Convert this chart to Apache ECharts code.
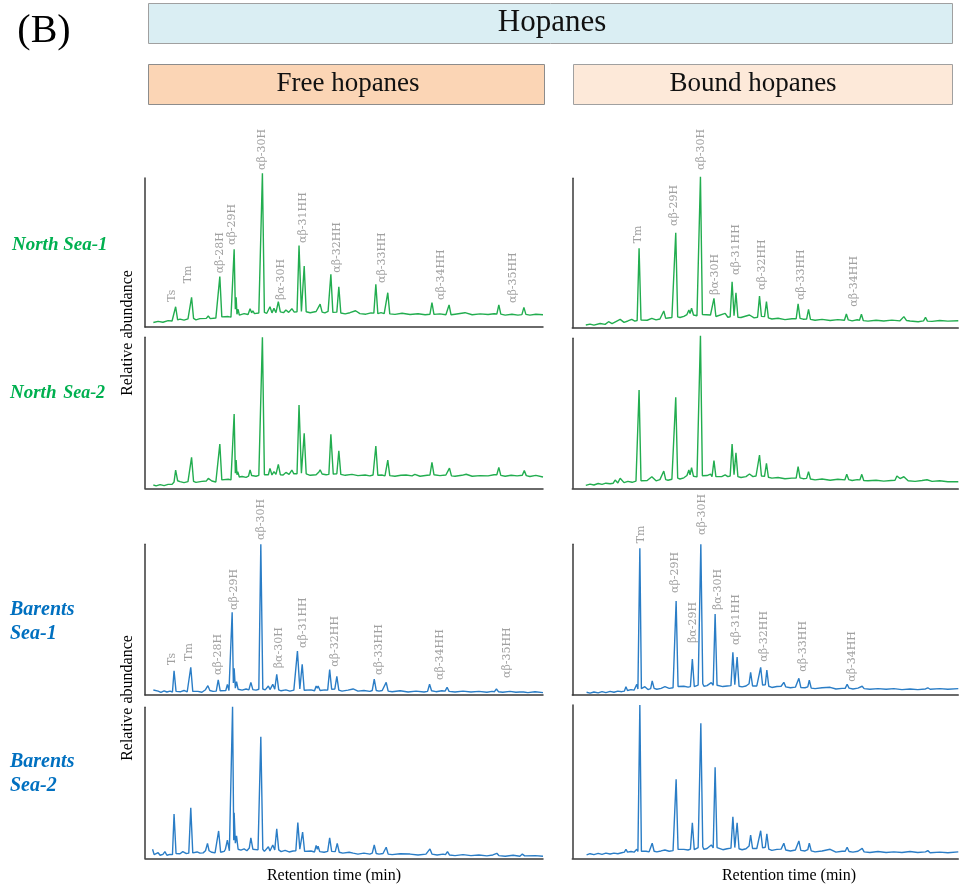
<!DOCTYPE html>
<html>
<head>
<meta charset="utf-8">
<script src="https://cdn.jsdelivr.net/npm/echarts@6/dist/echarts.min.js"></script>
<style>
html,body{margin:0;padding:0;background:#fff;}
#chart{width:959px;height:886px;}
</style>
</head>
<body>
<div id="chart"></div>
<script>
// Retention position (0-100 across each panel) and relative abundance (0-100 = panel height)
const northSea1Free = [[2.1,3.0],[3.3,3.8],[4.5,3.2],[5.8,4.3],[6.8,4.0],[7.2,4.2],[7.7,13.6],[8.2,4.8],[8.8,5.3],[9.8,4.6],[10.8,5.5],[11.2,5.2],[11.7,19.9],[12.2,5.8],[12.8,4.8],[13.8,5.6],[15.4,5.8],[15.9,7.4],[16.4,5.6],[17.8,6.0],[18.3,6.2],[18.8,33.8],[19.3,6.8],[19.8,6.4],[20.9,7.0],[21.6,6.6],[21.9,7.0],[22.4,52.1],[22.7,12],[22.9,19.9],[23.1,8.5],[23.4,11.9],[23.7,8.0],[24.9,9.0],[25.9,8.4],[26.4,12.3],[26.8,9.5],[27.1,10.9],[27.5,9.0],[28.6,9.4],[29.0,9.6],[29.5,103.2],[30.0,9.8],[30.6,9.2],[31.4,13.6],[31.9,9.5],[32.4,12.5],[32.9,9.6],[33.5,17.0],[34.0,10.2],[34.8,9.6],[35.4,11.4],[36.1,9.8],[36.9,12.3],[37.5,10.0],[38.2,10.2],[38.7,54.6],[39.3,10.5],[39.6,11],[40.0,40.9],[40.5,10.2],[41.5,9.6],[43.0,10.4],[43.5,10.3],[44.0,15.4],[44.5,10.0],[45.2,9.5],[46.0,10.5],[46.2,10.0],[46.7,35.4],[47.2,9.8],[47.7,10.2],[48.2,10.0],[48.7,27.0],[49.2,9.4],[50.3,8.8],[51.5,9.6],[52.9,10.9],[54.0,9.0],[55.5,8.6],[56.8,9.5],[57.5,9.3],[58.0,28.7],[58.5,9.0],[59.3,9.6],[60.1,9.0],[60.5,9.2],[61.0,23.0],[61.5,8.8],[62.8,8.5],[64.6,9.2],[66.6,8.4],[68.6,8.9],[70.4,8.2],[71.6,8.6],[72.1,16.3],[72.6,8.5],[74.1,8.8],[75.6,8.2],[75.9,8.4],[76.4,14.8],[76.9,8.2],[77.9,8.6],[80.4,9.6],[82.2,8.2],[84.2,8.8],[86.2,8.4],[87.7,8.9],[88.4,8.7],[88.9,14.8],[89.4,8.6],[90.5,8.0],[92.2,8.6],[93.7,8.0],[94.7,8.3],[95.2,13.2],[95.7,8.5],[96.7,8.0],[98.2,8.6],[100,8.2]];
const northSea1Bound = [[3.5,1.8],[4.6,2.4],[5.6,1.7],[7.2,2.8],[8.5,2.2],[9.4,4.0],[10.3,2.8],[12.4,5.6],[13.4,3.6],[14.4,4.5],[15.4,5.6],[16.2,4.4],[16.8,4.8],[17.3,53.1],[17.8,5.2],[18.3,5.5],[19.4,5.0],[20.6,6.3],[21.7,5.2],[22.7,5.8],[23.2,6.0],[23.7,11.2],[24.2,6.2],[24.8,6.5],[25.8,6.8],[26.3,7.0],[26.8,63.6],[27.3,7.2],[27.9,6.8],[28.9,7.6],[29.7,8.8],[30.2,11.8],[30.5,9.5],[30.9,13.0],[31.4,8.5],[32.3,8.0],[32.7,8.4],[33.2,101.1],[33.7,8.8],[34.1,7.6],[35.8,8.5],[36.2,7.2],[36.7,19.7],[37.2,7.5],[37.7,6.8],[39.6,9.6],[40.3,7.0],[40.9,7.3],[41.4,30.8],[41.9,8.0],[42.4,23.4],[42.9,7.0],[43.7,6.8],[45.9,8.5],[47.1,6.6],[48.0,7.0],[48.5,21.2],[49.0,7.6],[49.8,7.4],[50.3,17.4],[50.8,6.6],[51.7,5.8],[53.3,6.3],[55.1,5.4],[56.9,6.0],[58.0,6.0],[58.5,15.9],[59.0,6.2],[59.8,5.7],[60.7,5.8],[61.2,12.3],[61.7,5.6],[62.9,5.0],[64.7,5.6],[66.8,4.8],[68.8,5.4],[70.5,5.0],[71.0,9.2],[71.5,5.2],[72.5,4.6],[73.8,5.3],[74.4,5.0],[74.9,9.0],[75.4,4.7],[76.6,4.4],[78.7,5.0],[80.7,4.5],[82.8,5.1],[84.9,4.6],[85.9,7.4],[86.6,4.8],[87.5,4.5],[89.6,4.0],[91.0,4.6],[91.5,7.0],[92.0,4.4],[93.2,4.2],[95.2,4.8],[97.3,4.4],[100,4.7]];
const northSea2Free = [[2.1,2.2],[2.8,1.6],[3.8,2.4],[4.8,1.8],[5.8,2.6],[6.8,2.6],[7.3,4.2],[7.7,12.1],[8.2,5.0],[8.8,4.4],[9.8,3.8],[10.8,4.4],[11.2,4.0],[11.7,20.5],[12.2,4.6],[12.8,3.9],[14.3,4.6],[15.4,4.8],[15.9,6.6],[16.8,4.8],[17.8,4.2],[18.3,4.6],[18.8,29.3],[19.3,5.6],[19.8,5.2],[20.9,6.0],[21.6,5.6],[21.9,6.0],[22.4,49.2],[22.7,10],[22.9,18.7],[23.1,9.0],[23.3,11.0],[23.7,7.5],[24.4,7.8],[25.4,7.2],[26.0,8.0],[26.4,12.1],[26.8,8.5],[27.1,9.5],[27.9,8.0],[28.6,8.6],[29.0,8.8],[29.5,100],[30.0,9.0],[30.4,8.6],[31.0,9.0],[31.4,13.2],[31.9,8.8],[32.4,11.0],[32.9,9.2],[33.5,15.9],[34.0,9.0],[34.7,8.8],[35.4,10.5],[36.2,9.2],[36.9,12.1],[37.4,9.6],[37.9,9.3],[38.2,9.6],[38.7,55.2],[39.3,10.0],[40.0,36.4],[40.5,9.6],[41.5,8.6],[43.0,9.0],[43.7,10.8],[44.0,12.3],[44.5,9.5],[45.5,9.0],[46.0,9.5],[46.2,9.2],[46.7,35.8],[47.3,9.4],[47.7,10.0],[48.2,9.6],[48.7,24.9],[49.2,9.2],[50.3,8.6],[52.0,9.2],[53.5,8.4],[55.3,8.8],[56.5,8.2],[57.3,8.8],[57.5,9.0],[58.0,28.0],[58.5,8.6],[59.5,8.8],[60.3,8.2],[60.5,8.4],[61.0,18.7],[61.5,8.4],[62.8,8.0],[64.3,8.6],[65.6,8.8],[67.1,8.2],[67.8,9.2],[69.1,8.0],[70.9,8.6],[71.6,8.8],[72.1,17.2],[72.6,9.0],[74.1,8.4],[75.6,8.8],[76.0,8.6],[76.5,13.4],[77.0,8.2],[77.9,8.0],[79.6,8.6],[80.7,9.3],[82.2,8.0],[84.2,8.4],[86.2,8.2],[87.7,9.0],[88.4,9.0],[88.9,13.9],[89.4,8.6],[90.5,8.0],[92.0,8.6],[93.5,8.2],[94.8,8.6],[95.3,11.7],[95.8,8.4],[96.7,7.8],[98.2,8.6],[100,7.5]];
const northSea2Bound = [[3.5,2.0],[4.6,2.8],[5.6,2.2],[6.7,3.2],[7.7,2.6],[8.7,3.4],[9.8,3.0],[10.6,3.4],[11.1,5.5],[11.8,3.6],[12.4,6.7],[13.4,3.8],[14.4,4.6],[15.5,4.0],[16.5,4.8],[16.8,5.2],[17.3,65.5],[17.8,5.0],[18.3,4.6],[19.4,5.2],[20.6,7.7],[21.7,5.0],[22.7,5.8],[23.2,5.5],[23.7,11.5],[24.2,5.8],[24.8,5.4],[25.8,6.0],[26.3,6.0],[26.8,60.7],[27.3,6.8],[27.9,6.2],[28.9,7.0],[29.7,8.5],[30.2,12.2],[30.5,9.0],[30.9,13.7],[31.4,8.0],[32.3,7.6],[32.7,8.0],[33.2,101.7],[33.7,8.4],[34.1,7.5],[34.9,8.5],[35.8,9.5],[36.2,7.8],[36.7,18.4],[37.2,7.8],[37.7,7.5],[38.7,7.8],[39.6,9.0],[40.3,7.8],[40.9,8.2],[41.4,29.5],[41.9,9.0],[42.4,23.7],[42.9,7.8],[43.7,7.2],[45.0,7.8],[45.9,9.5],[46.8,7.8],[47.6,8.2],[48.0,8.0],[48.5,22.2],[49.0,8.2],[49.8,8.0],[50.3,16.7],[50.8,7.4],[51.7,6.8],[53.3,7.2],[55.1,6.4],[56.9,6.8],[58.0,6.8],[58.5,14.4],[59.0,7.0],[59.8,6.4],[60.7,6.6],[61.2,11.1],[61.7,6.2],[62.9,5.6],[64.7,6.2],[66.8,5.4],[68.8,6.0],[70.6,5.6],[71.1,9.3],[71.6,5.8],[72.5,5.2],[73.8,5.8],[74.5,5.6],[75.0,9.3],[75.5,5.2],[76.6,5.0],[78.7,5.4],[80.7,4.8],[82.6,5.2],[83.6,5.4],[84.1,8.2],[84.9,6.5],[85.9,7.7],[87.0,5.0],[88.8,4.6],[90.6,5.2],[91.9,5.7],[93.2,4.6],[95.2,5.0],[97.3,4.4],[100,4.4]];
const barentsSea1Free = [[2.1,3.3],[2.5,2.0],[3.3,2.6],[4.0,1.8],[4.8,2.8],[5.5,2.0],[6.3,2.6],[6.9,2.0],[7.3,16.1],[7.8,2.4],[8.3,3.2],[9.0,2.2],[9.8,3.0],[10.6,2.0],[11.0,2.2],[11.5,18.4],[12.0,2.4],[12.3,1.8],[13.3,2.4],[14.3,1.8],[15.2,3.5],[15.8,6.2],[16.3,3.0],[17.1,2.4],[17.9,2.6],[18.4,10.0],[18.9,2.8],[19.3,2.4],[20.3,3.0],[20.7,7.1],[21.1,3.0],[21.5,3.4],[21.9,54.9],[22.2,8],[22.4,17.7],[22.7,4.5],[23.0,8.8],[23.4,3.8],[24.4,3.2],[25.4,4.0],[26.1,3.4],[26.6,8.4],[27.1,3.6],[27.9,3.2],[28.6,3.8],[29.1,100],[29.6,4.0],[30.2,3.4],[31.0,6.0],[31.4,3.6],[32.1,7.1],[32.6,3.8],[33.1,13.7],[33.6,3.4],[34.2,2.8],[35.4,3.4],[36.4,2.6],[37.4,3.2],[37.8,3.2],[38.3,29.2],[38.9,4.0],[39.5,20.4],[40.0,3.2],[40.5,2.8],[41.7,3.4],[42.6,2.8],[43.0,6.0],[43.3,4.5],[43.5,6.0],[44.0,3.0],[45.2,3.4],[45.9,3.2],[46.4,16.8],[46.9,3.8],[47.2,4.5],[47.7,4.0],[48.2,12.4],[48.7,3.2],[49.5,2.6],[51.0,3.2],[52.3,4.0],[53.5,2.6],[55.0,3.0],[56.5,2.4],[57.1,3.0],[57.6,10.6],[58.1,3.0],[58.8,2.6],[59.6,3.0],[60.1,2.8],[60.6,8.4],[61.1,2.6],[62.1,2.2],[64.1,2.8],[66.1,2.0],[68.1,2.6],[70.1,2.0],[71.0,2.4],[71.5,7.1],[72.0,2.8],[73.1,2.2],[74.6,2.8],[75.4,2.6],[75.9,5.1],[76.4,2.4],[77.9,2.0],[79.9,2.6],[81.9,2.0],[83.9,2.4],[85.9,1.8],[87.2,2.4],[87.8,2.2],[88.3,4.0],[88.8,2.2],[89.9,1.8],[91.7,2.4],[93.2,1.8],[94.1,2.0],[94.6,3.3],[95.1,2.0],[96.2,1.6],[98.0,2.2],[100,1.6]];
const barentsSea1Bound = [[3.7,1.8],[4.6,1.2],[5.6,2.0],[6.7,1.4],[7.7,2.2],[8.7,1.6],[9.8,2.4],[10.8,1.8],[11.8,2.6],[12.8,2.2],[13.5,2.6],[13.9,5.5],[14.3,3.0],[15.2,3.6],[16.0,3.2],[16.7,7.1],[17.0,4.0],[17.5,97.3],[17.9,4.2],[18.3,3.8],[18.8,5.5],[19.6,3.6],[20.3,4.2],[20.7,9.3],[21.2,4.4],[21.9,3.8],[23.0,4.4],[24.0,5.5],[25.1,4.4],[26.1,4.8],[26.4,5.0],[26.9,62.4],[27.4,5.6],[27.9,5.0],[28.9,5.8],[30.0,5.2],[30.6,5.6],[31.1,23.9],[31.6,5.6],[31.8,6.0],[32.6,6.6],[32.9,7.5],[33.3,100],[33.8,7.5],[34.1,5.8],[34.9,6.2],[36.0,8.2],[36.5,6.5],[37.0,53.7],[37.5,6.5],[38.0,6.0],[39.0,5.6],[40.1,6.0],[41.1,6.2],[41.6,28.3],[42.1,6.8],[42.7,25.2],[43.2,5.8],[44.0,5.4],[45.0,6.0],[45.8,7.5],[46.2,15.1],[46.7,6.0],[47.1,5.4],[47.8,6.0],[48.3,6.8],[48.8,18.4],[49.3,6.6],[49.6,6.2],[50.0,6.8],[50.4,16.6],[50.9,5.8],[51.7,5.0],[53.0,5.6],[54.1,5.8],[54.4,6.5],[54.8,8.4],[55.3,5.4],[56.5,4.8],[57.8,5.2],[58.3,5.6],[58.7,11.1],[59.2,5.0],[60.3,4.8],[61.0,5.4],[61.4,9.8],[61.9,4.6],[62.9,4.2],[64.7,4.8],[66.8,5.1],[68.3,4.0],[69.9,4.4],[70.7,4.4],[71.2,7.1],[71.7,4.6],[72.7,4.0],[74.0,4.6],[75.1,5.8],[75.6,4.2],[77.1,3.8],[79.2,4.2],[81.3,3.8],[83.3,4.2],[85.4,3.6],[87.5,4.0],[89.5,3.6],[91.5,4.0],[92.1,4.8],[92.7,3.8],[95.2,4.2],[97.3,3.8],[100,4.2]];
const barentsSea2Free = [[1.9,6.0],[2.3,2.4],[2.8,3.0],[3.3,3.7],[3.8,2.0],[4.5,2.6],[5.0,4.4],[5.5,2.0],[6.3,2.6],[6.9,2.4],[7.3,29.3],[7.8,3.2],[8.0,4.0],[8.8,3.0],[9.5,4.4],[10.3,3.2],[11.0,3.4],[11.5,33.5],[12.0,3.6],[12.3,3.0],[13.1,4.2],[13.8,3.4],[14.6,3.6],[15.2,5.0],[15.7,9.9],[16.1,5.0],[16.8,4.0],[17.6,3.6],[18.0,4.2],[18.5,18.1],[19.0,4.0],[19.3,3.8],[19.9,4.6],[20.2,6.0],[20.7,12.1],[21.2,5.0],[21.6,5.6],[22.0,100.4],[22.3,12],[22.4,30.2],[22.7,10],[23.0,14.8],[23.4,6.0],[24.1,5.4],[24.9,6.2],[25.6,5.0],[26.2,6.8],[26.6,13.6],[27.1,6.0],[27.6,4.8],[28.4,5.6],[28.7,6.5],[29.1,80.5],[29.6,6.0],[30.0,4.6],[31.0,7.7],[31.4,4.8],[32.1,8.8],[32.6,5.5],[33.1,19.6],[33.6,5.6],[34.2,4.4],[35.2,5.2],[36.2,4.2],[37.2,4.8],[37.9,5.0],[38.4,23.6],[38.9,6.0],[39.6,17.4],[40.1,4.6],[40.5,4.0],[41.7,4.8],[42.6,4.2],[43.0,8.5],[43.3,6.0],[43.5,8.0],[43.9,4.4],[45.0,4.0],[45.9,4.6],[46.4,13.6],[46.9,4.6],[47.2,5.0],[47.8,4.4],[48.3,9.9],[48.8,4.0],[49.7,3.4],[51.3,4.0],[52.3,3.4],[53.5,2.8],[55.0,3.4],[56.5,2.8],[57.1,3.4],[57.6,8.8],[58.1,3.2],[58.8,2.8],[59.8,3.2],[60.1,3.0],[60.6,7.3],[61.1,2.8],[62.1,2.4],[64.1,3.0],[66.6,2.8],[68.6,2.2],[70.6,2.8],[71.1,2.6],[71.6,6.2],[72.1,2.8],[73.4,2.2],[74.9,2.8],[75.5,2.4],[76.0,4.4],[76.5,2.2],[77.9,1.8],[79.9,2.4],[81.9,1.8],[83.9,2.2],[85.9,1.6],[87.4,2.2],[87.9,1.8],[88.4,3.3],[88.9,1.8],[90.5,1.4],[92.5,2.0],[94.2,1.4],[94.8,2.8],[95.4,1.6],[98.0,1.8],[100,1.4]];
const barentsSea2Bound = [[3.7,2.2],[4.6,3.0],[5.6,2.4],[6.7,3.2],[7.7,2.6],[8.7,3.4],[9.8,2.8],[10.8,3.4],[11.8,3.0],[12.8,3.6],[13.5,4.0],[13.9,5.9],[14.3,4.0],[15.2,4.4],[16.0,4.0],[16.7,5.9],[17.0,4.4],[17.5,100],[17.9,4.6],[18.3,4.0],[19.1,4.6],[19.9,4.2],[20.3,5.0],[20.7,9.8],[21.2,4.6],[21.9,4.2],[23.0,4.8],[24.0,5.4],[25.1,4.6],[26.1,5.0],[26.4,5.2],[26.9,51.5],[27.4,5.8],[27.9,5.2],[28.9,5.8],[30.0,5.4],[30.6,6.0],[31.1,23.2],[31.6,5.6],[31.8,5.8],[32.6,7.0],[32.9,8.0],[33.3,88.1],[33.8,7.5],[34.1,5.8],[34.9,6.4],[36.0,8.7],[36.5,6.8],[37.0,59.4],[37.5,7.0],[38.0,6.0],[39.0,5.6],[40.1,6.2],[41.1,6.6],[41.6,27.1],[42.1,7.0],[42.7,23.2],[43.2,6.2],[44.0,5.6],[45.0,6.2],[45.8,8.0],[46.2,15.2],[46.7,6.4],[47.1,5.8],[47.8,6.4],[48.3,7.2],[48.8,18.0],[49.3,6.8],[49.6,6.2],[50.0,7.2],[50.4,15.9],[50.9,6.0],[51.7,5.2],[53.0,5.8],[54.1,6.0],[54.4,6.8],[54.8,9.8],[55.3,5.4],[56.5,4.8],[57.8,5.4],[58.3,6.0],[58.7,11.3],[59.2,5.2],[60.3,4.8],[61.0,5.6],[61.4,9.8],[61.9,4.8],[62.9,4.2],[64.7,4.8],[66.8,5.9],[68.3,4.0],[69.9,4.6],[70.7,4.6],[71.2,7.2],[71.7,4.4],[72.7,4.0],[74.0,4.6],[75.1,6.5],[75.6,4.2],[77.1,3.8],[79.2,4.4],[81.3,3.8],[83.3,4.2],[85.4,3.8],[87.5,4.4],[89.5,3.8],[91.5,4.2],[92.1,5.0],[92.7,3.6],[95.2,4.0],[97.3,3.6],[100,4.2]];

// Peak labels: [name, retention position, abundance where the label starts]
const peakLabelsNorthSea1Free = [['Ts',6.7,17.0],['Tm',10.9,29.3],['αβ-28H',18.8,36.0],['αβ-29H',21.9,55.0],['αβ-30H',29.4,105.4],['βα-30H',34.1,18.1],['αβ-31HH',39.8,56.4],['αβ-32HH',48.2,36.4],['αβ-33HH',59.7,29.5],['αβ-34HH',74.3,18.1],['αβ-35HH',92.4,16.1]];
const peakLabelsNorthSea1Bound = [['Tm',17.1,56.5],['αβ-29H',26.4,68.1],['αβ-30H',33.5,105.6],['βα-30H',37.0,21.9],['αβ-31HH',42.4,35.3],['αβ-32HH',49.1,25.2],['αβ-33HH',59.2,18.5],['αβ-34HH',72.9,14.1]];
const peakLabelsBarentsSea1Free = [['Ts',6.7,19.9],['Tm',11.1,22.6],['αβ-28H',18.4,13.3],['αβ-29H',22.4,56.4],['αβ-30H',29.1,102.9],['βα-30H',33.7,17.7],['αβ-31HH',39.8,31.2],['αβ-32HH',47.7,18.8],['αβ-33HH',58.8,13.3],['αβ-34HH',74.1,10.0],['αβ-35HH',90.9,11.3]];
const peakLabelsBarentsSea1Bound = [['Tm',17.8,100.7],['αβ-29H',26.6,67.7],['βα-29H',31.2,34.5],['αβ-30H',33.7,106.2],['βα-30H',37.7,56.4],['αβ-31HH',42.4,33.2],['αβ-32HH',49.7,22.1],['αβ-33HH',59.8,15.5],['αβ-34HH',72.5,8.8]];

const titleText = 'Hopanes';
const columnTitles = ['Free hopanes', 'Bound hopanes'];
const yAxisTitle = 'Relative abundance';
const xAxisTitle = 'Retention time (min)';

const GREEN = '#22ad4f';
const BLUE = '#2a7dc6';
const SERIF = '"Liberation Serif", "Times New Roman", serif';
const LABEL_FONT = '"DejaVu Serif", serif';

const panels = [
  {data: northSea1Free, labels: peakLabelsNorthSea1Free, color: GREEN, rect: [145, 178, 398, 149]},
  {data: northSea1Bound, labels: peakLabelsNorthSea1Bound, color: GREEN, rect: [572.3, 178.3, 386, 149.4]},
  {data: northSea2Free, labels: [], color: GREEN, rect: [145, 337.3, 398, 151]},
  {data: northSea2Bound, labels: [], color: GREEN, rect: [572.3, 338.3, 386, 150]},
  {data: barentsSea1Free, labels: peakLabelsBarentsSea1Free, color: BLUE, rect: [145, 544.3, 398, 150.7]},
  {data: barentsSea1Bound, labels: peakLabelsBarentsSea1Bound, color: BLUE, rect: [572.3, 544.3, 386, 150.7]},
  {data: barentsSea2Free, labels: [], color: BLUE, rect: [145, 707.3, 398, 151]},
  {data: barentsSea2Bound, labels: [], color: BLUE, rect: [572.3, 705, 386, 153.3]}
];

const axisLineStyle = {color: '#3a3a3a', width: 1.5};
const grids = [], xAxes = [], yAxes = [], series = [];
panels.forEach((p, i) => {
  grids.push({left: p.rect[0], top: p.rect[1], width: p.rect[2], height: p.rect[3]});
  xAxes.push({type: 'value', gridIndex: i, min: 0, max: 100,
    axisLine: {show: true, onZero: false, lineStyle: axisLineStyle},
    axisTick: {show: false}, axisLabel: {show: false}, splitLine: {show: false}});
  yAxes.push({type: 'value', gridIndex: i, min: 0, max: 100,
    axisLine: {show: true, onZero: false, lineStyle: axisLineStyle},
    axisTick: {show: false}, axisLabel: {show: false}, splitLine: {show: false}});
  series.push({type: 'line', xAxisIndex: i, yAxisIndex: i, data: p.data,
    showSymbol: false, symbol: 'none', clip: false, silent: true,
    lineStyle: {color: p.color, width: 1.4}});
  if (p.labels.length) {
    series.push({type: 'scatter', xAxisIndex: i, yAxisIndex: i, clip: false, silent: true,
      symbolSize: 1, itemStyle: {color: 'rgba(0,0,0,0)'},
      data: p.labels.map(l => ({name: l[0], value: [l[1], l[2]]})),
      label: {show: true, formatter: '{b}', position: 'inside', rotate: 90,
        align: 'left', verticalAlign: 'middle',
        color: '#8a8a8a', fontSize: 11, fontFamily: LABEL_FONT}});
  }
});

function txt(x, y, text, font, fill, opts) {
  return Object.assign({type: 'text', x: x, y: y, silent: true,
    style: {text: text, font: font, fill: fill,
      textAlign: 'center', align: 'center', textVerticalAlign: 'middle', verticalAlign: 'middle'}}, opts || {});
}

const graphic = [
  txt(44, 31, '(B)', '40px ' + SERIF, '#000'),
  {type: 'rect', silent: true, shape: {x: 148.5, y: 3.5, width: 804, height: 40}, style: {fill: '#daeef3', stroke: '#a0a0a0', lineWidth: 1}},
  txt(552, 23, titleText, '31px ' + SERIF, '#111'),
  {type: 'rect', silent: true, shape: {x: 148.5, y: 64.5, width: 396, height: 40}, style: {fill: '#fbd5b5', stroke: '#8c8c8c', lineWidth: 1}},
  txt(348, 84, columnTitles[0], '27px ' + SERIF, '#111'),
  {type: 'rect', silent: true, shape: {x: 573.5, y: 64.5, width: 379, height: 40}, style: {fill: '#fde9d9', stroke: '#a0a0a0', lineWidth: 1}},
  txt(753, 84, columnTitles[1], '27px ' + SERIF, '#111'),
  {type: 'text', x: 12, y: 245, silent: true, style: {text: 'North Sea-1', font: 'italic bold 19px ' + SERIF, fill: '#00b050', textAlign: 'left', align: 'left', textVerticalAlign: 'middle', verticalAlign: 'middle'}},
  {type: 'text', x: 10, y: 393, silent: true, style: {text: '{a|North}  {b|Sea-2}', fill: '#00b050', textAlign: 'left', align: 'left', textVerticalAlign: 'middle', verticalAlign: 'middle',
    rich: {a: {font: 'italic bold 19px ' + SERIF, fill: '#00b050'}, b: {font: 'italic bold 18px ' + SERIF, fill: '#00b050'}}}},
  {type: 'text', x: 10, y: 622, silent: true, style: {text: 'Barents\nSea-1', font: 'italic bold 20px ' + SERIF, lineHeight: 24, fill: '#0070c0', textAlign: 'left', align: 'left', textVerticalAlign: 'middle', verticalAlign: 'middle'}},
  {type: 'text', x: 10, y: 774, silent: true, style: {text: 'Barents\nSea-2', font: 'italic bold 20px ' + SERIF, lineHeight: 24, fill: '#0070c0', textAlign: 'left', align: 'left', textVerticalAlign: 'middle', verticalAlign: 'middle'}},
  txt(128, 333, yAxisTitle, '16px ' + SERIF, '#000', {rotation: Math.PI / 2}),
  txt(128, 698, yAxisTitle, '16px ' + SERIF, '#000', {rotation: Math.PI / 2}),
  txt(334, 876, xAxisTitle, '16px ' + SERIF, '#000'),
  txt(789, 876, xAxisTitle, '16px ' + SERIF, '#000')
];

const chart = echarts.init(document.getElementById('chart'), null, {renderer: 'canvas'});
chart.setOption({
  animation: false,
  backgroundColor: '#fff',
  grid: grids, xAxis: xAxes, yAxis: yAxes, series: series,
  graphic: graphic
});
</script>
</body>
</html>
